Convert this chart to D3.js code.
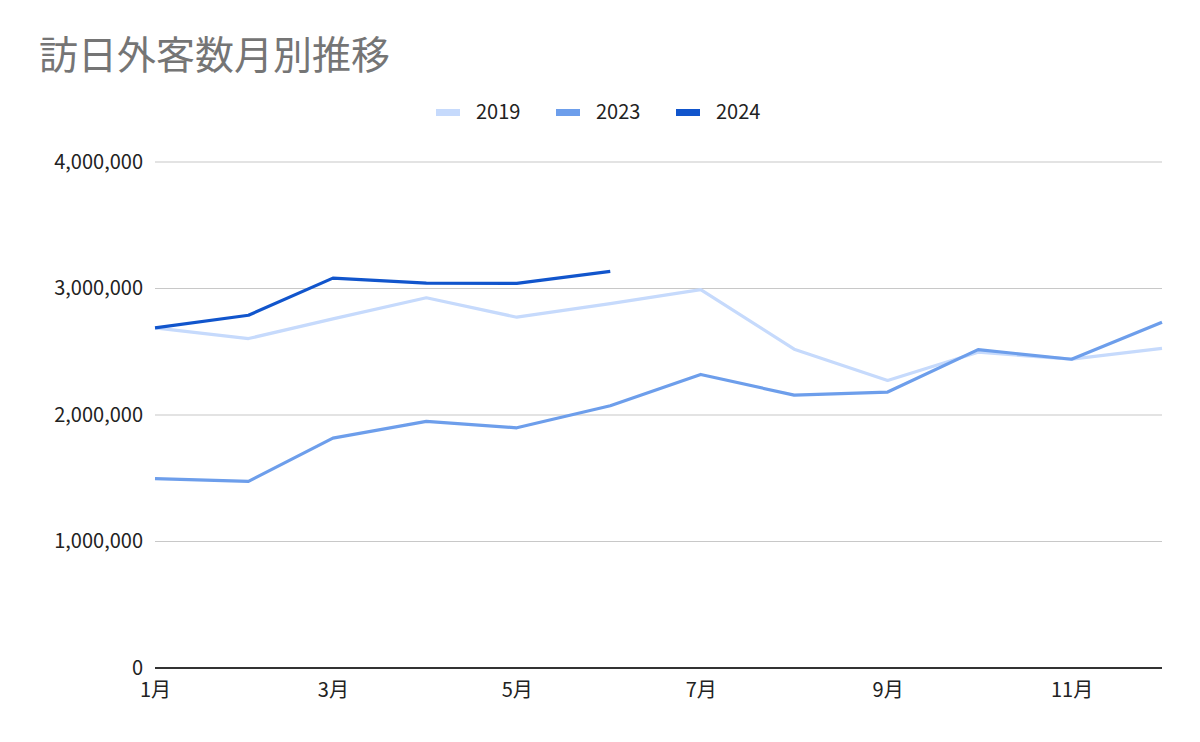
<!DOCTYPE html>
<html><head><meta charset="utf-8">
<script src="https://cdn.jsdelivr.net/npm/d3@7"></script>
<style>body{margin:0;background:#fff}svg{display:block}</style>
</head><body>
<script>
const title = "訪日外客数月別推移";
const months = ["1月","2月","3月","4月","5月","6月","7月","8月","9月","10月","11月","12月"];
const monthIndex = [0,1,2,3,4,5,6,7,8,9,10,11];
const seriesNames = ["2019","2023","2024"];
const values2019 = [2689339,2604322,2760136,2926685,2773091,2880041,2991189,2520134,2272883,2496568,2441274,2526387];
const values2023 = [1497472,1475455,1817500,1949236,1898900,2073300,2320600,2156900,2181500,2516500,2440700,2734000];
const values2024 = [2688478,2788474,3081781,3042924,3040103,3135600];
const yTicks = [0,1000000,2000000,3000000,4000000];
const xTickMonths = [0,2,4,6,8,10];
const colors = ["#c6dafc","#6d9eeb","#1155cc"];

(function(){
const W=1200,H=742;
const svg=d3.select("body").append("svg").attr("width",W).attr("height",H);
const font="'Noto Sans CJK JP','Noto Sans',sans-serif";
const pLeft=155,pRight=1162,pTop=162,pBottom=668;

const date=m=>new Date(Date.UTC(2023,m,1));
const x=d3.scaleUtc().domain([date(0),date(11)]).range([pLeft,pRight]);
const y=d3.scaleLinear().domain([0,4000000]).range([pBottom,pTop]);

svg.append("text").attr("x",39).attr("y",69).attr("font-family",font)
  .attr("font-size",39).attr("fill","#757575").text(title);

// grid
svg.append("g").selectAll("line").data(yTicks.filter(d=>d>0)).join("line")
  .attr("x1",pLeft).attr("x2",pRight).attr("y1",d=>y(d)).attr("y2",d=>y(d))
  .attr("stroke","#c8c8c8").attr("stroke-width",1.2);

// y axis labels
const yAxis=d3.axisLeft(y).tickValues(yTicks).tickSize(0).tickPadding(12).tickFormat(d3.format(","));
const ya=svg.append("g").attr("transform",`translate(${pLeft},0)`).call(yAxis);
ya.select(".domain").remove();
ya.selectAll("text").attr("font-family",font).attr("font-size",20).attr("fill","#222");

// x axis
const xAxis=d3.axisBottom(x).tickValues(xTickMonths.map(date)).tickSize(0).tickPadding(15)
  .tickFormat((d)=>months[d.getUTCMonth()]);
const xa=svg.append("g").attr("transform",`translate(0,${pBottom})`).call(xAxis);
xa.select(".domain").remove();
xa.selectAll("text").attr("font-family",font).attr("font-size",20).attr("fill","#222");
svg.append("line").attr("x1",pLeft).attr("x2",pRight).attr("y1",pBottom).attr("y2",pBottom)
  .attr("stroke","#333").attr("stroke-width",2);

// lines
const line=d3.line().x((d,i)=>x(date(monthIndex[i]))).y(d=>y(d));
[values2019,values2023,values2024].forEach((vals,k)=>{
  svg.append("path").datum(vals).attr("d",line).attr("fill","none")
    .attr("stroke",colors[k]).attr("stroke-width",3.2).attr("stroke-linejoin","round");
});

// legend
const legX=[436,556,676];
const lg=svg.append("g");
seriesNames.forEach((n,i)=>{
  lg.append("rect").attr("x",legX[i]).attr("y",109).attr("width",24).attr("height",7).attr("fill",colors[i]);
  lg.append("text").attr("x",legX[i]+40).attr("y",119).attr("font-family",font)
    .attr("font-size",20).attr("fill","#222").text(n);
});
})();
</script>
</body></html>
